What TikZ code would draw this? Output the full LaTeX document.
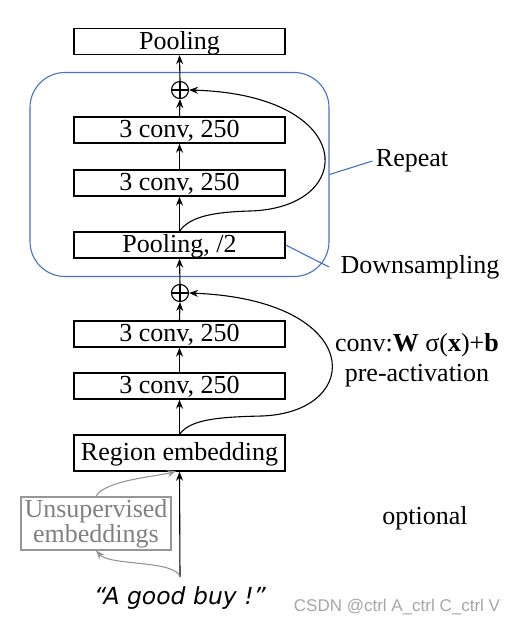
\documentclass[tikz,border=0pt]{standalone}
\usepackage{fontspec}
\setmainfont{Liberation Serif}
\newfontfamily\quotefont{DejaVu Sans}
\newfontfamily\markfont{Liberation Sans}
\usetikzlibrary{shapes,arrows,arrows.meta,calc,positioning}
\definecolor{repblue}{RGB}{68,114,196}
\definecolor{unsgray}{RGB}{150,150,150}
\tikzstyle{layer} = [draw, line width=1.4pt, minimum width=211pt, minimum height=26pt, inner sep=0pt, text height=18.5pt, text depth=3pt]
\tikzstyle{arrow} = [line width=1.1pt, ->, >={Stealth[length=9pt,width=7pt,inset=3pt]}]
\tikzstyle{addnode} = [draw, circle, line width=1.1pt, minimum size=17pt, inner sep=0pt,
  path picture={\draw[line width=1.1pt] (path picture bounding box.north) -- (path picture bounding box.south)
    (path picture bounding box.west) -- (path picture bounding box.east);}]

\begin{document}
\begin{tikzpicture}[x=1pt,y=1pt,font=\fontsize{26}{30}\selectfont]
\useasboundingbox (0,0) rectangle (525,-626);
%\begin{scope}
\node[draw=repblue, line width=1.1pt, rounded corners=35pt, minimum width=299pt, minimum height=204pt] (rep) at (179.5,-174.5) {};

\node[layer] (pool) at (179.5,-41.5) {Pooling};
\node[addnode] (add1) at (180,-90) {};
\node[layer] (convA) at (179.5,-130) {3 conv, 250};
\node[layer] (convB) at (179.5,-183) {3 conv, 250};
\node[layer] (pool2) at (179.5,-245) {Pooling, /2};
\node[addnode] (add2) at (180,-293) {};
\node[layer] (convC) at (179.5,-334) {3 conv, 250};
\node[layer] (convD) at (179.5,-386) {3 conv, 250};
\node[layer, minimum height=36pt] (region) at (179.5,-453) {Region embedding};
\node[draw=unsgray, line width=1.1pt, text=gray, minimum width=150pt, minimum height=53pt, inner sep=0pt,
  align=center, font=\fontsize{26}{23}\selectfont] (unsup) at (96,-523.5) {Unsupervised\\embeddings};
\coordinate (src) at (180,-577);
\node (sent) at (180,-598) {\quotefont\itshape\fontsize{23.5}{26}\selectfont “A good buy !”};

% labels
\node (repeat) at (412,-161) {Repeat};
\node (down) at (420,-267) {Downsampling};
\node[align=center, font=\fontsize{26}{30}\selectfont] (convlbl) at (417,-360)
  {conv:\textbf{W} σ(\textbf{x})+\textbf{b}\\pre-activation};
\node (opt) at (425,-518) {optional};
\node[text=black!35] (mark) at (397,-607) {\markfont\fontsize{17}{20}\selectfont CSDN @ctrl A\_ctrl C\_ctrl V};

\draw[repblue, line width=1.1pt] (rep.east) -- (repeat.west);
\draw[repblue, line width=1.1pt] (pool2.east) -- ($(down.west)+(-8,0)$);

% main path
\draw[arrow] (src) -- (region.south);
\draw[arrow] (region.north) -- (convD.south);
\draw[arrow] (convD.north) -- (convC.south);
\draw[arrow] (convC.north) -- (add2.south);
\draw[arrow] (add2.north) -- (pool2.south);
\draw[arrow] (pool2.north) -- (convB.south);
\draw[arrow] (convB.north) -- (convA.south);
\draw[arrow] (convA.north) -- (add1.south);
\draw[arrow] (add1.north) -- (pool.south);

% shortcuts
\draw[arrow] (region.north) .. controls (190,-420) and (215,-417) .. (262,-416)
  .. controls (365,-412) and (365,-300) .. (add2.east);
\draw[arrow] (pool2.north) .. controls (190,-216) and (215,-212) .. (250,-211)
  .. controls (358,-208) and (358,-95) .. (add1.east);

% optional
\draw[arrow, unsgray] (src) .. controls (176,-560) and (110,-566) .. (unsup.south);
\draw[arrow, unsgray] (unsup.north) .. controls (104,-480) and (160,-476) .. (176,-471);
%\end{scope}
\end{tikzpicture}
\end{document}
